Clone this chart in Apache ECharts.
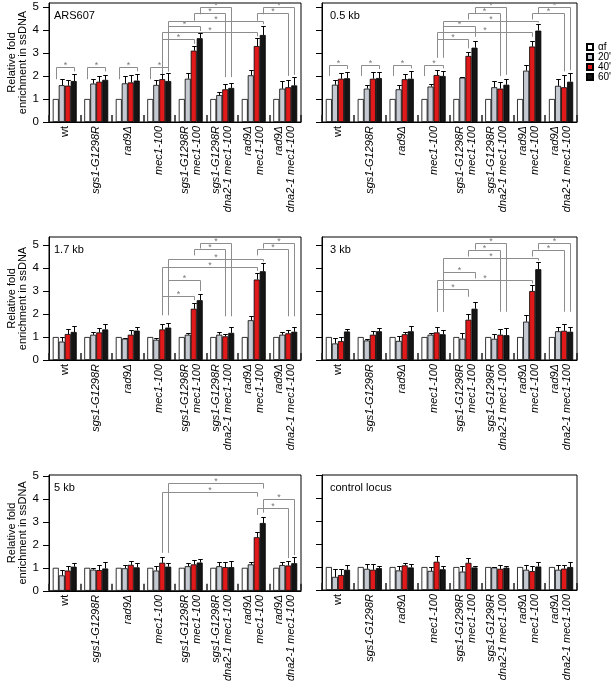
<!DOCTYPE html>
<html>
<head>
<meta charset="utf-8">
<script src="https://cdn.jsdelivr.net/npm/echarts@6/dist/echarts.min.js"></script>
<style>
html,body{margin:0;padding:0;background:#fff;}
#chart{width:616px;height:684px;}
</style>
</head>
<body>
<div id="chart"></div>
<script>
// ---------- data ----------
const categories = ['wt', 'sgs1-G1298R', 'rad9Δ', 'mec1-100', 'sgs1-G1298R\nmec1-100',
  'sgs1-G1298R\ndna2-1 mec1-100', 'rad9Δ\nmec1-100', 'rad9Δ\ndna2-1 mec1-100'];
const timepoints = ['αf', "20'", "40'", "60'"];
const panelNames = ['ARS607', '0.5 kb', '1.7 kb', '3 kb', '5 kb', 'control locus'];
const yTicks = [0, 1, 2, 3, 4, 5];

const af = [1, 1, 1, 1, 1, 1, 1, 1];

const ars607_t20 = [1.60, 1.67, 1.68, 1.61, 1.88, 1.17, 2.03, 1.45];
const ars607_t40 = [1.58, 1.75, 1.72, 1.86, 3.10, 1.42, 3.30, 1.51];
const ars607_t60 = [1.78, 1.83, 1.80, 1.78, 3.64, 1.48, 3.78, 1.59];
const ars607_e20 = [0.27, 0.19, 0.32, 0.22, 0.24, 0.15, 0.23, 0.33];
const ars607_e40 = [0.25, 0.25, 0.32, 0.23, 0.20, 0.23, 0.34, 0.32];
const ars607_e60 = [0.31, 0.21, 0.29, 0.36, 0.22, 0.20, 0.39, 0.38];

const kb05_t20 = [1.62, 1.45, 1.42, 1.54, 1.93, 1.51, 2.23, 1.57];
const kb05_t40 = [1.88, 1.88, 1.86, 2.04, 2.87, 1.45, 3.28, 1.51];
const kb05_t60 = [1.90, 1.91, 1.88, 2.00, 3.23, 1.62, 3.97, 1.75];
const kb05_e20 = [0.21, 0.17, 0.20, 0.10, 0.04, 0.27, 0.23, 0.29];
const kb05_e40 = [0.24, 0.29, 0.23, 0.22, 0.19, 0.29, 0.26, 0.53];
const kb05_e60 = [0.27, 0.26, 0.35, 0.23, 0.31, 0.26, 0.29, 0.39];

const kb17_t20 = [0.80, 1.10, 0.93, 0.88, 1.10, 1.10, 1.73, 1.10];
const kb17_t40 = [1.13, 1.20, 1.10, 1.33, 2.23, 1.03, 3.50, 1.16];
const kb17_t60 = [1.22, 1.33, 1.28, 1.41, 2.60, 1.18, 3.86, 1.23];
const kb17_e20 = [0.21, 0.10, 0.04, 0.07, 0.08, 0.10, 0.17, 0.10];
const kb17_e40 = [0.23, 0.20, 0.20, 0.25, 0.27, 0.12, 0.27, 0.14];
const kb17_e60 = [0.24, 0.22, 0.17, 0.22, 0.28, 0.24, 0.34, 0.22];

const kb3_t20 = [0.72, 0.85, 0.83, 1.10, 0.93, 0.92, 1.67, 1.25];
const kb3_t40 = [0.82, 1.10, 1.12, 1.20, 1.75, 1.10, 3.00, 1.27];
const kb3_t60 = [1.24, 1.25, 1.25, 1.12, 2.23, 1.08, 3.95, 1.23];
const kb3_e20 = [0.23, 0.08, 0.20, 0.08, 0.24, 0.23, 0.30, 0.17];
const kb3_e40 = [0.18, 0.18, 0.11, 0.23, 0.23, 0.25, 0.25, 0.28];
const kb3_e60 = [0.11, 0.15, 0.25, 0.20, 0.29, 0.30, 0.30, 0.22];

const kb5_t20 = [0.67, 0.92, 0.98, 0.88, 1.07, 1.07, 1.15, 1.12];
const kb5_t40 = [0.88, 0.90, 1.13, 1.22, 1.15, 1.03, 2.33, 1.10];
const kb5_t60 = [1.05, 0.97, 1.02, 1.05, 1.23, 1.03, 2.95, 1.20];
const kb5_e20 = [0.23, 0.06, 0.14, 0.20, 0.16, 0.18, 0.10, 0.13];
const kb5_e40 = [0.20, 0.22, 0.15, 0.25, 0.18, 0.22, 0.22, 0.20];
const kb5_e60 = [0.17, 0.28, 0.20, 0.15, 0.15, 0.25, 0.28, 0.25];

const ctrl_t20 = [0.57, 0.92, 0.85, 0.83, 0.80, 0.98, 0.88, 0.88];
const ctrl_t40 = [0.65, 0.88, 1.07, 1.23, 1.18, 0.92, 0.82, 0.93];
const ctrl_t60 = [0.88, 0.95, 0.98, 0.90, 0.98, 0.97, 1.02, 1.00];
const ctrl_e20 = [0.33, 0.20, 0.18, 0.17, 0.23, 0.02, 0.20, 0.22];
const ctrl_e40 = [0.28, 0.24, 0.10, 0.27, 0.19, 0.18, 0.23, 0.14];
const ctrl_e60 = [0.22, 0.10, 0.17, 0.15, 0.07, 0.08, 0.18, 0.20];

// significance brackets: [groupA, timeA, endA, groupB, timeB, endB, height]
const ars607_sig = [
  [0,0,1.86, 0,3,2.2, 2.41], [1,0,1.86, 1,3,2.2, 2.41], [2,0,1.86, 2,3,2.2, 2.41], [3,0,1.86, 3,3,2.25, 2.41],
  [3,2,2.0, 4,2,3.4, 3.59], [3,2,2.0, 6,2,3.72, 3.91], [3,3,2.2, 4,3,3.95, 4.17], [3,3,2.2, 6,3,4.25, 4.40],
  [4,2,4.4, 5,2,1.95, 4.72], [4,3,4.68, 5,3,1.95, 5.0], [6,2,4.4, 7,2,2.0, 4.72], [6,3,4.68, 7,3,2.05, 5.0]
];
const kb05_sig = [
  [0,0,2.0, 0,3,2.3, 2.48], [1,0,2.0, 1,3,2.3, 2.48], [2,0,2.0, 2,3,2.33, 2.48], [3,0,2.0, 3,3,2.33, 2.48],
  [3,2,2.8, 4,2,3.2, 3.59], [3,2,2.8, 6,2,3.7, 3.91], [3,3,2.8, 4,3,3.7, 4.17], [3,3,2.8, 6,3,4.32, 4.40],
  [4,2,4.45, 5,2,2.0, 4.72], [4,3,4.72, 5,3,2.05, 5.0], [6,2,4.45, 7,2,2.2, 4.72], [6,3,4.72, 7,3,2.25, 5.0]
];
const kb17_sig = [
  [3,2,1.95, 4,2,2.6, 2.8], [3,3,1.95, 4,3,3.0, 3.5], [3,2,1.95, 6,2,3.88, 4.03], [3,3,1.95, 6,3,4.28, 4.38],
  [4,2,4.55, 5,2,1.9, 4.81], [4,3,4.85, 5,3,1.9, 5.1], [6,2,4.55, 7,2,1.9, 4.81], [6,3,4.85, 7,3,1.9, 5.1]
];
const kb3_sig = [
  [3,2,2.1, 4,2,2.75, 3.07], [3,3,2.1, 4,3,3.55, 3.84], [3,2,2.1, 6,2,3.33, 3.48], [3,3,2.1, 6,3,4.33, 4.42],
  [4,2,4.5, 5,2,2.1, 4.77], [4,3,4.8, 5,3,2.1, 5.07], [6,2,4.5, 7,2,2.1, 4.77], [6,3,4.8, 7,3,2.1, 5.07]
];
const kb5_sig = [
  [3,2,1.65, 6,2,4.1, 4.29], [3,3,1.65, 6,3,4.45, 4.68],
  [6,2,3.3, 7,2,1.42, 3.59], [6,3,3.4, 7,3,1.55, 3.99]
];
const ctrl_sig = [];

// ---------- build ----------
const panels = [
  {vals: [af, ars607_t20, ars607_t40, ars607_t60], errs: [null, ars607_e20, ars607_e40, ars607_e60], sig: ars607_sig},
  {vals: [af, kb05_t20, kb05_t40, kb05_t60], errs: [null, kb05_e20, kb05_e40, kb05_e60], sig: kb05_sig},
  {vals: [af, kb17_t20, kb17_t40, kb17_t60], errs: [null, kb17_e20, kb17_e40, kb17_e60], sig: kb17_sig},
  {vals: [af, kb3_t20, kb3_t40, kb3_t60], errs: [null, kb3_e20, kb3_e40, kb3_e60], sig: kb3_sig},
  {vals: [af, kb5_t20, kb5_t40, kb5_t60], errs: [null, kb5_e20, kb5_e40, kb5_e60], sig: kb5_sig},
  {vals: [af, ctrl_t20, ctrl_t40, ctrl_t60], errs: [null, ctrl_e20, ctrl_e40, ctrl_e60], sig: ctrl_sig}
];

const FONT = 'Liberation Sans, Arial, Helvetica, sans-serif';
const colors = ['#ffffff', '#c5c9d1', '#e0191b', '#151515'];
const CAT_GAP = 0.24;

const layout = [
  {left: 49, top: 3, width: 252, height: 119, max: 5.17},
  {left: 322, top: 3, width: 255, height: 119, max: 5.17},
  {left: 49, top: 237, width: 252, height: 123, max: 5.35},
  {left: 322, top: 237, width: 255, height: 123, max: 5.35},
  {left: 49, top: 475, width: 252, height: 116, max: 5.04},
  {left: 322, top: 475, width: 255, height: 115, max: 5.0}
];

function labelFormatter(v) {
  if (v === 'wt') return '{n|wt}';
  return v.split('\n').map(l => '{i|' + l + '}').join('\n');
}

function barX(api, g, s) {
  const band = api.size([1, 0])[0];
  const bw = band * (1 - CAT_GAP) / 4;
  return api.coord([g, 0])[0] + (s - 1.5) * bw;
}

function renderErr(params, api) {
  const g = api.value(0), s = api.value(1), v = api.value(2), t = api.value(3);
  const band = api.size([1, 0])[0];
  const bw = band * (1 - CAT_GAP) / 4;
  const x = Math.round(barX(api, g, s)) + 0.5;
  const y0 = api.coord([g, v])[1];
  const y1 = Math.round(api.coord([g, t])[1]) + 0.5;
  const cap = bw * 0.38;
  return {type: 'group', children: [
    {type: 'line', shape: {x1: x, y1: y0, x2: x, y2: y1}, style: {stroke: '#000', lineWidth: 1}},
    {type: 'line', shape: {x1: x - cap, y1: y1, x2: x + cap, y2: y1}, style: {stroke: '#000', lineWidth: 1}}
  ]};
}

function renderSig(params, api) {
  const gA = api.value(0), sA = api.value(1), eA = api.value(2);
  const gB = api.value(3), sB = api.value(4), eB = api.value(5), h = api.value(6);
  const xA = Math.round(barX(api, gA, sA)) + 0.5;
  const xB = Math.round(barX(api, gB, sB)) + 0.5;
  const yA = api.coord([gA, eA])[1];
  const yB = api.coord([gB, eB])[1];
  const yH = Math.round(api.coord([gA, h])[1]) + 0.5;
  return {type: 'group', children: [
    {type: 'polyline', shape: {points: [[xA, yA], [xA, yH], [xB, yH], [xB, yB]]},
     style: {stroke: '#8d8d8d', lineWidth: 1, fill: null}},
    {type: 'text', x: (xA + xB) / 2, y: yH - 1.5,
     style: {text: '*', fill: '#777', fontSize: 9, fontFamily: FONT, align: 'center', verticalAlign: 'middle'}}
  ]};
}

const grid = [], xAxis = [], yAxis = [], series = [], title = [];
layout.forEach((L, i) => {
  const left = i % 2 === 0;
  grid.push({left: L.left, top: L.top, width: L.width, height: L.height, show: true,
    borderColor: '#000', borderWidth: 1, containLabel: false});
  title.push({text: panelNames[i], left: L.left + (left ? 5 : 8), top: L.top + 7, padding: 0,
    textStyle: {fontSize: 11, fontWeight: 'normal', color: '#000', fontFamily: FONT}});
  xAxis.push({gridIndex: i, type: 'category', data: categories, boundaryGap: true,
    axisLine: {show: true, lineStyle: {color: '#000', width: 1}},
    axisTick: {show: true, inside: true, length: 7, interval: 0, lineStyle: {color: '#222', width: 1.5}},
    axisLabel: {interval: 0, rotate: 90, margin: 4, color: '#000', fontSize: 11, fontFamily: FONT,
      lineHeight: 12, formatter: labelFormatter,
      rich: {
        i: {fontStyle: 'italic', fontSize: 11, fontFamily: FONT, lineHeight: 12, color: '#000'},
        n: {fontStyle: 'normal', fontSize: 11, fontFamily: FONT, lineHeight: 12, color: '#000'}
      }},
    splitLine: {show: false}});
  yAxis.push({gridIndex: i, type: 'value', min: 0, max: L.max, interval: 1,
    axisLine: {show: true, lineStyle: {color: '#000', width: 1}},
    axisTick: {show: true, length: 6, customValues: yTicks, lineStyle: {color: '#000'}},
    axisLabel: {show: left, customValues: yTicks, margin: 10, fontSize: 11.5, color: '#000', fontFamily: FONT,
      formatter: v => (Math.abs(v - Math.round(v)) < 1e-6 ? String(Math.round(v)) : '')},
    splitLine: {show: false},
    name: left ? 'Relative fold\nenrichment in ssDNA' : '',
    nameLocation: 'middle', nameGap: 21, nameRotate: 90,
    nameTextStyle: {fontSize: 11, color: '#000', fontFamily: FONT, lineHeight: 10.5, align: 'center'}});

  const P = panels[i];
  for (let s = 0; s < 4; s++) {
    series.push({type: 'bar', name: timepoints[s], xAxisIndex: i, yAxisIndex: i, data: P.vals[s],
      barGap: '0%', barCategoryGap: (CAT_GAP * 100) + '%',
      itemStyle: {color: colors[s], borderColor: '#000', borderWidth: 0.8},
      emphasis: {disabled: true}, silent: true});
  }
  const errData = [];
  for (let s = 1; s < 4; s++) {
    for (let g = 0; g < categories.length; g++) {
      const v = P.vals[s][g];
      errData.push([g, s, v, +(v + P.errs[s][g]).toFixed(2)]);
    }
  }
  series.push({type: 'custom', xAxisIndex: i, yAxisIndex: i, renderItem: renderErr, data: errData,
    encode: {x: 0, y: [2, 3]}, z: 4, silent: true});
  if (P.sig.length) {
    series.push({type: 'custom', xAxisIndex: i, yAxisIndex: i, renderItem: renderSig, data: P.sig,
      encode: {x: 0, y: [2, 6]}, z: 3, silent: true, clip: false});
  }
});

const chart = echarts.init(document.getElementById('chart'), null, {renderer: 'canvas'});
chart.setOption({
  animation: false,
  backgroundColor: '#fff',
  textStyle: {fontFamily: FONT},
  title: title,
  legend: {data: timepoints, orient: 'vertical', left: 586, top: 42, padding: 0,
    itemWidth: 6, itemHeight: 6, itemGap: 0, icon: 'rect', selectedMode: false,
    textStyle: {fontSize: 10, lineHeight: 7.7, color: '#000', fontFamily: FONT}},
  grid: grid, xAxis: xAxis, yAxis: yAxis, series: series
});
</script>
</body>
</html>
